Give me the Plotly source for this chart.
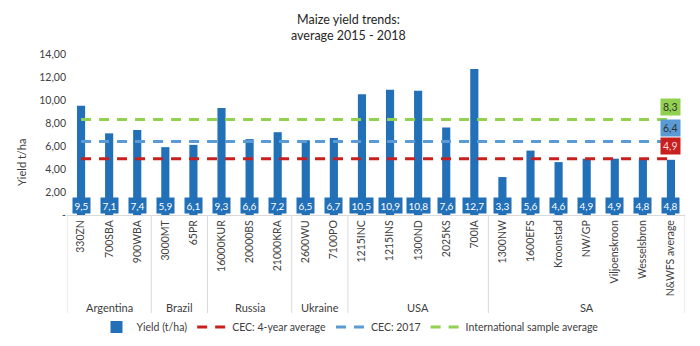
import plotly.graph_objects as go

# Cultivar / locality categories and their country groups
cultivars = ["330ZN", "700SBA", "900WBA", "3000MT", "65PR", "16000KUR", "20000BS",
             "21000KRA", "2600WU", "7100PO", "1215INC", "1215INS", "1300ND", "2025KS",
             "700IA", "1300NW", "1600EFS", "Kroonstad", "NW/GP", "Viljoenskroon",
             "Wesselsbron", "N&WFS average"]
groups = ["Argentina", "Brazil", "Russia", "Ukraine", "USA", "SA"]
group_sizes = [3, 2, 3, 2, 5, 7]

# Average yield (t/ha), 2015 - 2018
yield_tha = [9.5, 7.1, 7.4, 5.9, 6.1, 9.3, 6.6, 7.2, 6.5, 6.7, 10.5, 10.9, 10.8, 7.6,
             12.7, 3.3, 5.6, 4.6, 4.9, 4.9, 4.8, 4.8]

# Reference averages
cec_4yr = 4.9
cec_2017 = 6.4
intl_avg = 8.3

y_ticks = [0, 2, 4, 6, 8, 10, 12, 14]
y_ticktext = ["-", "2,00", "4,00", "6,00", "8,00", "10,00", "12,00", "14,00"]

FONT = "Lato"
BAR = "#2270B8"
RED = "#C8201E"
LBLUE = "#5B9BD5"
GREEN = "#92D050"
TXT = "#404040"

n = len(cultivars)
fig = go.Figure()

fig.add_trace(go.Bar(x=cultivars, y=yield_tha, name="Yield (t/ha)",
                     marker=dict(color=BAR, line=dict(width=0))))

for val, col, nm in [(cec_4yr, RED, "CEC: 4-year average"),
                     (cec_2017, LBLUE, "CEC: 2017"),
                     (intl_avg, GREEN, "International sample average")]:
    fig.add_trace(go.Scatter(x=cultivars, y=[val] * n, mode="lines", name=nm,
                             line=dict(color=col, width=3, dash="10px,8px")))

annotations = []
# Value call-outs at the foot of each bar
for c, v in zip(cultivars, yield_tha):
    annotations.append(dict(x=c, y=0.83, xref="x", yref="y",
                            text=f"{v:.1f}".replace(".", ","), showarrow=False,
                            font=dict(family=FONT, size=10, color="white"),
                            bgcolor=BAR, borderpad=1.5))

# Value boxes for the reference lines at the right end
for val, bg, fg in [(intl_avg, GREEN, "#333333"), (cec_2017, LBLUE, "#333333"),
                    (cec_4yr, RED, "#F6DADA")]:
    annotations.append(dict(x=cultivars[-1], y=val, xref="x", yref="y", yshift=13,
                            text=f"{val:.1f}".replace(".", ","), showarrow=False,
                            font=dict(family=FONT, size=10.5, color=fg),
                            bgcolor=bg, borderpad=2))

# Country group labels and separators under the axis
shapes = []
plot_left, plot_right = 67, 685
plot_top, plot_bot = 54, 215
ph = plot_bot - plot_top
pw = plot_right - plot_left

def py(pix):
    return (plot_bot - pix) / ph

def px(pix):
    return (pix - plot_left) / pw

start = 0
bounds = [-0.5]
for g, s in zip(groups, group_sizes):
    mid = start + (s - 1) / 2
    annotations.append(dict(x=mid, y=py(307), xref="x", yref="paper", text=g,
                            showarrow=False, yanchor="middle",
                            font=dict(family=FONT, size=11, color=TXT)))
    start += s
    bounds.append(start - 0.5)
for b in bounds:
    shapes.append(dict(type="line", xref="x", yref="paper", x0=b, x1=b,
                       y0=0, y1=py(313), line=dict(color="#D9D9D9", width=1)))

# Axis title
annotations.append(dict(x=px(21), y=py(163), xref="paper", yref="paper",
                        text="Yield t/ha", textangle=-90, showarrow=False,
                        xanchor="center", yanchor="middle",
                        font=dict(family=FONT, size=11, color=TXT)))

# Chart title (two lines)
annotations.append(dict(x=px(348), y=py(27), xref="paper", yref="paper",
                        text="Maize yield trends:<br>average 2015 - 2018",
                        showarrow=False, xanchor="center", yanchor="middle",
                        font=dict(family=FONT, size=12.5, color="#262626")))

fig.update_layout(
    width=700, height=346,
    margin=dict(l=plot_left, r=700 - plot_right, t=plot_top, b=346 - plot_bot,
                autoexpand=False),
    paper_bgcolor="white", plot_bgcolor="white",
    font=dict(family=FONT, size=10.5, color=TXT),
    bargap=0.71,
    showlegend=True,
    legend=dict(orientation="h", x=px(350), xanchor="center", xref="paper",
                y=py(327), yanchor="middle",
                font=dict(family=FONT, size=10.5, color=TXT),
                itemwidth=30, tracegroupgap=0, bgcolor="rgba(0,0,0,0)"),
    annotations=annotations,
    shapes=shapes,
)
fig.update_xaxes(type="category", categoryorder="array", categoryarray=cultivars,
                 tickangle=-90, showline=True, linecolor="#D9D9D9", linewidth=1,
                 ticks="", showgrid=False, range=[-0.5, n - 0.5], automargin=False,
                 tickfont=dict(family=FONT, size=10.5, color=TXT))
fig.update_yaxes(range=[0, 14], tickvals=y_ticks, ticktext=y_ticktext,
                 showgrid=False, showline=False, zeroline=False, ticks="",
                 automargin=False,
                 tickfont=dict(family=FONT, size=10.5, color=TXT))

fig.write_html("out.html")
